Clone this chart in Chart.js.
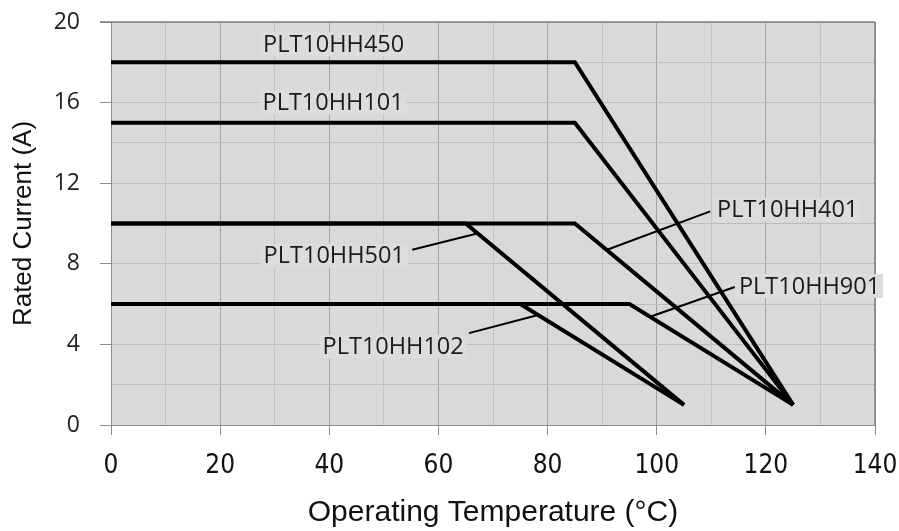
<!DOCTYPE html>
<html><head><meta charset="utf-8">
<script src="https://cdn.jsdelivr.net/npm/chart.js@4.4.1/dist/chart.umd.min.js"></script>
<style>html,body{margin:0;padding:0;background:#fff}#wrap{width:899px;height:531px}</style>
</head><body><div id="wrap"><canvas id="c" width="899" height="531"></canvas></div>
<script>
// ---- data ----
const seriesNames = ['PLT10HH450','PLT10HH101','PLT10HH401','PLT10HH901','PLT10HH501','PLT10HH102'];
const temp450 = [0, 85, 125];  const amp450 = [18, 18, 1];
const temp101 = [0, 85, 125];  const amp101 = [15, 15, 1];
const temp401 = [0, 85, 125];  const amp401 = [10, 10, 1];
const temp901 = [0, 95, 125];  const amp901 = [6, 6, 1];
const temp501 = [0, 65, 105];  const amp501 = [10, 10, 1];
const temp102 = [0, 75, 105];  const amp102 = [6, 6, 1];
const xTickLabels = [0, 20, 40, 60, 80, 100, 120, 140];
const yTickLabels = [0, 4, 8, 12, 16, 20];
// label anchors (data units) and leader lines (data units)
const labelX = [40.8, 40.7, 124.0, 128.0, 40.9, 51.7];
const labelY = [18.9, 16.0, 10.7, 6.9, 8.4, 3.9];
const leadFromX = [null, null, 90.9, 98.8, 67.1, 78.1];
const leadFromY = [null, null, 8.7, 5.37, 9.5, 5.45];
const leadToX   = [null, null, 109.8, 114.3, 55.2, 65.6];
const leadToY   = [null, null, 10.6, 6.85, 8.7, 4.56];

const temps = [temp450, temp101, temp401, temp901, temp501, temp102];
const amps  = [amp450, amp101, amp401, amp901, amp501, amp102];

const datasets = seriesNames.map((n, i) => ({
  label: n,
  data: temps[i].map((t, j) => ({x: t, y: amps[i][j]})),
  showLine: true,
  borderColor: '#000',
  borderWidth: 4,
  pointRadius: 0,
  fill: false,
  tension: 0,
  borderJoinStyle: 'miter'
}));

const bgPlugin = {
  id: 'bg',
  beforeDraw(chart) {
    const {ctx, chartArea: a} = chart;
    ctx.save();
    ctx.fillStyle = '#d9d9d9';
    ctx.fillRect(a.left, a.top, a.right - a.left, a.bottom - a.top);
    ctx.restore();
  },
  beforeDatasetsDraw(chart) {
    const {ctx, chartArea: a} = chart;
    ctx.save();
    ctx.strokeStyle = '#7f7f7f';
    ctx.lineWidth = 1.5;
    ctx.beginPath();
    ctx.moveTo(a.left - 11, a.top); ctx.lineTo(a.right, a.top);
    ctx.moveTo(a.right, a.top); ctx.lineTo(a.right, a.bottom);
    ctx.stroke();
    ctx.restore();
  }
};

const labelPlugin = {
  id: 'labels',
  afterDatasetsDraw(chart) {
    const {ctx} = chart;
    const xs = chart.scales.x, ys = chart.scales.y;
    ctx.save();
    ctx.strokeStyle = '#000';
    ctx.lineWidth = 2;
    for (let i = 0; i < seriesNames.length; i++) {
      if (leadFromX[i] === null) continue;
      ctx.beginPath();
      ctx.moveTo(xs.getPixelForValue(leadFromX[i]), ys.getPixelForValue(leadFromY[i]));
      ctx.lineTo(xs.getPixelForValue(leadToX[i]), ys.getPixelForValue(leadToY[i]));
      ctx.stroke();
    }
    ctx.font = '23.5px "Open Sans"';
    ctx.textAlign = 'center';
    ctx.textBaseline = 'middle';
    for (let i = 0; i < seriesNames.length; i++) {
      const px = xs.getPixelForValue(labelX[i]);
      const py = ys.getPixelForValue(labelY[i]);
      const w = ctx.measureText(seriesNames[i]).width;
      ctx.fillStyle = '#dcdcdc';
      ctx.fillRect(px - w / 2 - 3, py - 12, w + 6, 24);
      ctx.fillStyle = '#1a1a1a';
      ctx.fillText(seriesNames[i], px, py + 1);
    }
    ctx.restore();
  }
};

new Chart(document.getElementById('c'), {
  type: 'scatter',
  data: {datasets},
  plugins: [bgPlugin, labelPlugin],
  options: {
    responsive: false,
    animation: false,
    devicePixelRatio: 1,
    layout: {padding: {top: 22, right: 24, left: 0, bottom: 0}},
    plugins: {legend: {display: false}, tooltip: {enabled: false}, title: {display: false}},
    scales: {
      x: {
        type: 'linear', min: 0, max: 140,
        afterFit(s) { s.height = 106; s.paddingRight = 0; s.paddingLeft = 0; },
        ticks: {
          stepSize: 10,
          autoSkip: false,
          maxRotation: 0,
          padding: 16,
          color: '#111',
          font: {family: '"DejaVu Sans Condensed", "Liberation Sans Narrow", "Liberation Sans", Arial, sans-serif', size: 26},
          callback: v => xTickLabels.includes(v) ? String(v) : ''
        },
        grid: {
          color: c => (c.tick && c.tick.value % 20 === 0) ? '#a3a3a3' : '#c2c2c2',
          tickColor: c => (c.tick && c.tick.value % 20 === 0) ? '#8c8c8c' : 'rgba(0,0,0,0)',
          tickLength: 10,
          lineWidth: 1
        },
        border: {color: '#8c8c8c', width: 1},
        title: {
          display: true,
          text: 'Operating Temperature (°C)',
          color: '#111',
          font: {family: '"Liberation Sans", Arial, sans-serif', size: 30},
          padding: {top: 0, bottom: 0}
        }
      },
      y: {
        type: 'linear', min: 0, max: 20,
        afterFit(s) { s.width = 111; s.paddingTop = 0; },
        ticks: {
          stepSize: 2,
          autoSkip: false,
          padding: 20,
          color: '#222',
          font: {family: '"Open Sans", sans-serif', size: 23},
          callback: v => yTickLabels.includes(v) ? String(v) : ''
        },
        grid: {
          color: '#bdbdbd',
          tickColor: c => (c.tick && c.tick.value % 4 === 0) ? '#8c8c8c' : 'rgba(0,0,0,0)',
          tickLength: 11,
          lineWidth: 1
        },
        border: {color: '#8c8c8c', width: 1},
        title: {
          display: true,
          text: 'Rated Current (A)',
          color: '#111',
          font: {family: '"Liberation Sans", Arial, sans-serif', size: 26},
          padding: {top: 8, bottom: 0}
        }
      }
    }
  }
});
</script></body></html>
